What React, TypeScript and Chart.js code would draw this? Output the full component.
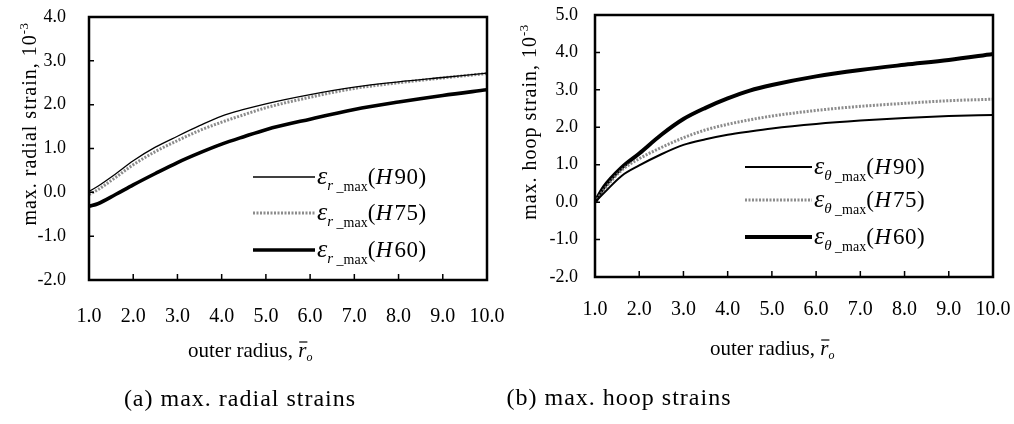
import React, { useEffect, useRef } from "react";
import { Chart, registerables } from "chart.js";

Chart.register(...registerables);

// ---------- data ----------
const radius = [1.0, 1.2, 1.6, 2.0, 2.5, 3.0, 3.5, 4.0, 4.5, 5.0, 6.0, 7.0, 8.0, 9.0, 10.0];

const radialH90 = [0.02, 0.14, 0.42, 0.72, 1.03, 1.28, 1.52, 1.74, 1.89, 2.02, 2.23, 2.4, 2.52, 2.62, 2.72];
const radialH75 = [-0.05, 0.06, 0.34, 0.63, 0.93, 1.18, 1.41, 1.6, 1.77, 1.93, 2.17, 2.37, 2.5, 2.61, 2.71];
const radialH60 = [-0.32, -0.26, -0.05, 0.17, 0.43, 0.68, 0.9, 1.1, 1.27, 1.43, 1.67, 1.89, 2.06, 2.21, 2.34];

const hoopH90 = [0, 0.24, 0.7, 0.98, 1.28, 1.53, 1.68, 1.8, 1.89, 1.97, 2.09, 2.18, 2.25, 2.3, 2.33];
const hoopH75 = [0, 0.33, 0.85, 1.16, 1.46, 1.72, 1.93, 2.08, 2.2, 2.3, 2.45, 2.56, 2.64, 2.71, 2.75];
const hoopH60 = [0, 0.4, 0.92, 1.3, 1.8, 2.22, 2.52, 2.77, 2.98, 3.13, 3.36, 3.53, 3.67, 3.8, 3.96];

const seriesNames = ["H90", "H75", "H60"];
const xMin = 1;
const xMax = 10;
const radialYMin = -2;
const radialYMax = 4;
const hoopYMin = -2;
const hoopYMax = 5;
const captions = ["(a) max. radial strains", "(b) max. hoop strains"];
const yTitles = ["max. radial strain, 10", "max. hoop strain, 10"];
const xTitle = "outer radius, ";

const SERIF = '"Liberation Serif", "Times New Roman", serif';

type Style = { color: string; width: number; dash: number[] };

type Panel = {
  values: number[][];
  styles: Style[];
  sub: string;
  yMin: number;
  yMax: number;
  pad: { left: number; top: number; right: number };
  yWidth: number;
  xHeight: number;
  yTickPad: number;
  xTickPad: number;
  yTitle: string;
  yTitleX: number;
  yTitleY: number;
  xTitleX: number;
  xTitleY: number;
  legendX1: number;
  legendX2: number;
  legendRows: number[];
  caption: string;
  captionX: number;
  captionY: number;
};

const panels: Panel[] = [
  {
    values: [radialH90, radialH75, radialH60],
    styles: [
      { color: "#000000", width: 1.3, dash: [] },
      { color: "rgba(120,120,120,0.85)", width: 3, dash: [2, 1.5] },
      { color: "#000000", width: 3.6, dash: [] },
    ],
    sub: "r",
    yMin: radialYMin,
    yMax: radialYMax,
    pad: { left: 0, top: 17, right: 1014 - 487 },
    yWidth: 89,
    xHeight: 424 - 280,
    yTickPad: 15,
    xTickPad: 17,
    yTitle: yTitles[0],
    yTitleX: 36,
    yTitleY: 124,
    xTitleX: 188,
    xTitleY: 357,
    legendX1: 253,
    legendX2: 315,
    legendRows: [177, 213, 250],
    caption: captions[0],
    captionX: 240,
    captionY: 406,
  },
  {
    values: [hoopH90, hoopH75, hoopH60],
    styles: [
      { color: "#000000", width: 2, dash: [] },
      { color: "rgba(120,120,120,0.85)", width: 3, dash: [2, 1.5] },
      { color: "#000000", width: 4, dash: [] },
    ],
    sub: "θ",
    yMin: hoopYMin,
    yMax: hoopYMax,
    pad: { left: 500, top: 15, right: 1014 - 993 },
    yWidth: 95,
    xHeight: 424 - 277,
    yTickPad: 9,
    xTickPad: 13,
    yTitle: yTitles[1],
    yTitleX: 536,
    yTitleY: 122,
    xTitleX: 710,
    xTitleY: 355,
    legendX1: 745,
    legendX2: 812,
    legendRows: [167, 200, 237],
    caption: captions[1],
    captionX: 619,
    captionY: 405,
  },
];

function setSpacing(ctx: CanvasRenderingContext2D, px: number) {
  (ctx as any).letterSpacing = px + "px";
}

type Piece = { t: string; font: string; dy?: number; sp?: number; over?: boolean };

function drawPieces(ctx: CanvasRenderingContext2D, x: number, y: number, pieces: Piece[]) {
  let cx = x;
  for (const p of pieces) {
    ctx.font = p.font;
    setSpacing(ctx, p.sp ?? 0);
    ctx.fillText(p.t, cx, y + (p.dy ?? 0));
    const w = ctx.measureText(p.t).width;
    if (p.over) {
      ctx.save();
      ctx.lineWidth = 1.2;
      ctx.beginPath();
      ctx.moveTo(cx + 1, y - 15);
      ctx.lineTo(cx + w + 1, y - 15);
      ctx.stroke();
      ctx.restore();
    }
    cx += w;
  }
  setSpacing(ctx, 0);
  return cx - x;
}

function measurePieces(ctx: CanvasRenderingContext2D, pieces: Piece[]) {
  let w = 0;
  for (const p of pieces) {
    ctx.font = p.font;
    setSpacing(ctx, p.sp ?? 0);
    w += ctx.measureText(p.t).width;
  }
  setSpacing(ctx, 0);
  return w;
}

const decorPlugin = {
  id: "decor",
  afterDraw(chart: any) {
    const P: Panel = chart.options.plugins.decor.panel;
    const ctx: CanvasRenderingContext2D = chart.ctx;
    const a = chart.chartArea;
    const xs = chart.scales.x;
    const ys = chart.scales.y;
    ctx.save();
    ctx.strokeStyle = "#000";
    ctx.fillStyle = "#000";
    // inner tick marks
    ctx.lineWidth = 1.5;
    ctx.beginPath();
    for (const t of xs.ticks) {
      if (t.value <= xMin || t.value >= xMax) continue;
      const px = xs.getPixelForValue(t.value);
      ctx.moveTo(px, a.bottom);
      ctx.lineTo(px, a.bottom - 6);
    }
    for (const t of ys.ticks) {
      if (t.value <= P.yMin || t.value >= P.yMax) continue;
      const py = ys.getPixelForValue(t.value);
      ctx.moveTo(a.left, py);
      ctx.lineTo(a.left + 5, py);
    }
    ctx.stroke();
    // frame
    ctx.lineWidth = 2.5;
    ctx.strokeRect(a.left, a.top, a.right - a.left, a.bottom - a.top);

    ctx.textBaseline = "alphabetic";
    ctx.textAlign = "left";

    // y title (rotated)
    const yPieces: Piece[] = [
      { t: P.yTitle, font: `20px ${SERIF}`, sp: 1 },
      { t: "-3", font: `13px ${SERIF}`, dy: -8, sp: 0.5 },
    ];
    ctx.save();
    ctx.translate(P.yTitleX, P.yTitleY);
    ctx.rotate(-Math.PI / 2);
    const yw = measurePieces(ctx, yPieces);
    drawPieces(ctx, -yw / 2, 0, yPieces);
    ctx.restore();

    // x title
    drawPieces(ctx, P.xTitleX, P.xTitleY, [
      { t: xTitle, font: `21px ${SERIF}` },
      { t: "r", font: `italic 21px ${SERIF}`, over: true },
      { t: "o", font: `italic 12px ${SERIF}`, dy: 4 },
    ]);

    // legend
    chart.data.datasets.forEach((ds: any, i: number) => {
      const y = P.legendRows[i];
      ctx.save();
      ctx.strokeStyle = ds.borderColor;
      ctx.lineWidth = ds.borderWidth;
      ctx.setLineDash(ds.borderDash || []);
      ctx.beginPath();
      ctx.moveTo(P.legendX1, y);
      ctx.lineTo(P.legendX2, y);
      ctx.stroke();
      ctx.restore();
      drawPieces(ctx, P.legendX2 + 2, y + 7, [
        { t: "ε", font: `italic 26px ${SERIF}` },
        { t: P.sub, font: `italic 15px ${SERIF}`, dy: 6 },
        { t: " _max", font: `14px ${SERIF}`, dy: 7 },
        { t: "(", font: `23px ${SERIF}`, sp: 0.5 },
        { t: "H", font: `italic 23px ${SERIF}`, sp: 2 },
        { t: ds.label.slice(1) + ")", font: `23px ${SERIF}`, sp: 0.5 },
      ]);
    });

    // caption
    const capPieces: Piece[] = [{ t: P.caption, font: `24px ${SERIF}`, sp: 1 }];
    const cw = measurePieces(ctx, capPieces);
    drawPieces(ctx, P.captionX - cw / 2, P.captionY, capPieces);

    ctx.restore();
  },
};

function makeConfig(P: Panel): any {
  return {
    type: "line",
    data: {
      datasets: P.values.map((vals, i) => ({
        label: seriesNames[i],
        data: radius.map((x, k) => ({ x, y: vals[k] })),
        borderColor: P.styles[i].color,
        borderWidth: P.styles[i].width,
        borderDash: P.styles[i].dash,
        pointRadius: 0,
        fill: false,
        cubicInterpolationMode: "monotone",
      })),
    },
    options: {
      responsive: false,
      animation: false,
      events: [],
      layout: { padding: { left: P.pad.left, top: P.pad.top, right: P.pad.right, bottom: 0 } },
      plugins: {
        legend: { display: false },
        tooltip: { enabled: false },
        decor: { panel: P },
      },
      scales: {
        x: {
          type: "linear",
          min: xMin,
          max: xMax,
          grid: { display: false },
          border: { display: false },
          ticks: {
            stepSize: 1,
            color: "#000",
            padding: P.xTickPad,
            maxRotation: 0,
            font: { family: SERIF, size: 20 },
            callback: (v: number) => Number(v).toFixed(1),
          },
          afterFit: (s: any) => {
            s.height = P.xHeight;
            s.paddingLeft = 0;
            s.paddingRight = 0;
          },
        },
        y: {
          type: "linear",
          min: P.yMin,
          max: P.yMax,
          grid: { display: false },
          border: { display: false },
          ticks: {
            stepSize: 1,
            color: "#000",
            padding: P.yTickPad,
            font: { family: SERIF, size: 18 },
            callback: (v: number) => Number(v).toFixed(1),
          },
          afterFit: (s: any) => {
            s.width = P.yWidth;
            s.paddingTop = 0;
            s.paddingBottom = 0;
          },
        },
      },
    },
    plugins: [decorPlugin],
  };
}

function PanelChart({ panel }: { panel: Panel }) {
  const ref = useRef<HTMLCanvasElement | null>(null);
  useEffect(() => {
    if (!ref.current) return;
    const chart = new Chart(ref.current, makeConfig(panel));
    return () => chart.destroy();
  }, [panel]);
  return (
    <canvas
      ref={ref}
      width={1014}
      height={424}
      style={{ position: "absolute", left: 0, top: 0, width: 1014, height: 424 }}
    />
  );
}

export default function App() {
  return (
    <div
      style={{
        position: "fixed",
        left: 0,
        top: 0,
        width: 1014,
        height: 424,
        background: "#fff",
        overflow: "hidden",
      }}
    >
      {panels.map((p, i) => (
        <PanelChart key={i} panel={p} />
      ))}
    </div>
  );
}
